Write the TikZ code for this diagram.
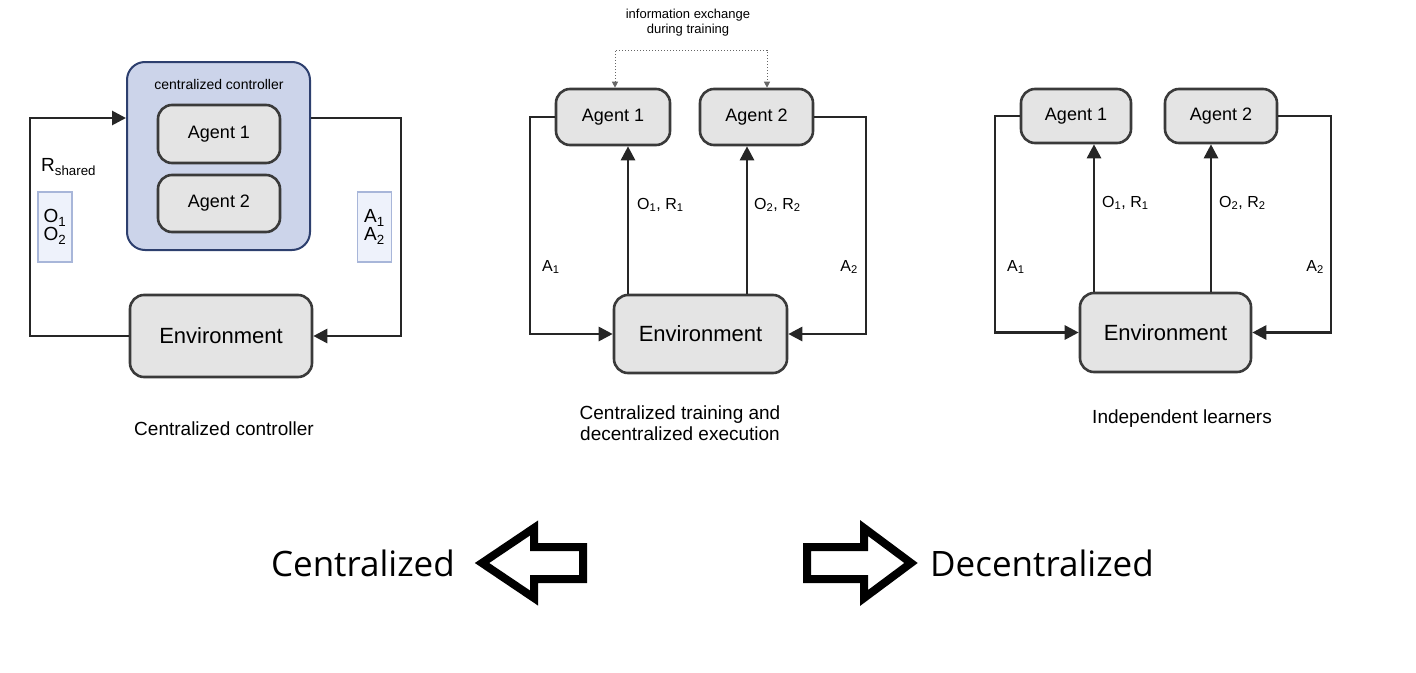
\documentclass[tikz,border=0pt]{standalone}
\usepackage{fontspec}
\setmainfont{Liberation Sans}
\newfontfamily\bigfont{Open Sans}
\usepackage{xcolor}
\usetikzlibrary{arrows.meta,positioning}

\definecolor{boxfill}{HTML}{E4E4E4}
\definecolor{boxline}{HTML}{3A3A3A}
\definecolor{ctrlfill}{HTML}{CCD4EA}
\definecolor{ctrlline}{HTML}{2D3F6E}
\definecolor{tagfill}{HTML}{EEF2FB}
\definecolor{tagline}{HTML}{A8B6D9}

\tikzset{
  agentbox/.style={draw=boxline, fill=boxfill, line width=2.6pt, rounded corners=14pt,
    inner sep=0pt, font=\fontsize{18}{20}\selectfont},
  envbox/.style={agentbox, font=\fontsize{22}{24}\selectfont},
  tagbox/.style={draw=tagline, fill=tagfill, line width=1.5pt, inner sep=0pt,
    minimum width=34pt, minimum height=70pt, align=left,
    font=\fontsize{19}{18}\selectfont},
  conn/.style={draw=black!85, line width=2.8pt, -{Triangle[length=14pt,width=14pt]}},
  info/.style={draw=black!60, line width=1pt, dotted,
    {Triangle[length=6pt,width=6pt]}-{Triangle[length=6pt,width=6pt]}},
  lbl/.style={inner sep=0pt, font=\fontsize{16}{16}\selectfont},
  caption/.style={align=center, font=\fontsize{19}{21}\selectfont},
  bigarrow/.style={draw=black, line width=8pt, miter limit=10},
}

\begin{document}
\begin{tikzpicture}[x=1pt, y=-1pt]
	\useasboundingbox (0,0) rectangle (1416,672);

	% centralized controller
	\node[draw=ctrlline, fill=ctrlfill, line width=2pt, rounded corners=18pt,
		minimum width=183pt, minimum height=188pt] (ctrl) at (218.5,156) {};
	\node[inner sep=0pt, font=\fontsize{14}{14}\selectfont] (ctrltxt) at (219,84) {centralized controller};
	\node[agentbox, minimum width=122pt, minimum height=58pt] (ag1) at (219,134) {Agent 1};
	\node[agentbox, minimum width=122pt, minimum height=57pt] (ag2) at (219,203.5) {Agent 2};
	\node[envbox, minimum width=182pt, minimum height=82pt] (env1) at (221,336) {Environment};
	\node[tagbox] (obox) at (55,227) {O\textsubscript{1}\\O\textsubscript{2}};
	\node[tagbox] (abox) at (374.5,227) {A\textsubscript{1}\\A\textsubscript{2}};
	\node[lbl, anchor=west, font=\fontsize{19}{19}\selectfont] (rsh) at (41,167) {R\textsubscript{shared}};
	\coordinate (cl) at (30,118);
	\coordinate (cr) at (401,118);
	\draw[conn] (env1.west) -| (cl) -- (cl -| ctrl.west);
	\draw[conn] (cr -| ctrl.east) -- (cr) |- (env1.east);
	\node[caption] (cap1) at (224,429) {Centralized controller};

	% centralized training, decentralized execution
	\node[agentbox, minimum width=114pt, minimum height=56pt] (a1m) at (613,117) {Agent 1};
	\node[agentbox, minimum width=113pt, minimum height=56pt] (a2m) at (756.5,117) {Agent 2};
	\node[envbox, minimum width=173pt, minimum height=78pt] (e2) at (700.5,334) {Environment};
	\node[inner sep=0pt, align=center, font=\fontsize{13}{15}\selectfont] (exch) at (688,23)
		{information exchange\\during training};
	\coordinate (x1) at (615,50);
	\coordinate (x2) at (767,50);
	\draw[info] (x1 |- a1m.north) -- (x1) -- (x2) -- (x2 |- a2m.north);
	\coordinate (u1) at (628,0);
	\coordinate (u2) at (747,0);
	\draw[conn] (u1 |- e2.north) -- (u1 |- a1m.south);
	\draw[conn] (u2 |- e2.north) -- (u2 |- a2m.south);
	\coordinate (ml) at (530,0);
	\coordinate (mr) at (866,0);
	\draw[conn] (a1m.west) -| (ml |- e2.west) -- (e2.west);
	\draw[conn] (a2m.east) -| (mr |- e2.east) -- (e2.east);
	\node[lbl, anchor=west] (or1m) at (637,205) {O\textsubscript{1}, R\textsubscript{1}};
	\node[lbl, anchor=west] (or2m) at (754,205) {O\textsubscript{2}, R\textsubscript{2}};
	\node[lbl, anchor=west] (act1m) at (542,267) {A\textsubscript{1}};
	\node[lbl, anchor=east] (act2m) at (858,267) {A\textsubscript{2}};
	\node[caption] (cap2) at (680,423) {Centralized training and\\decentralized execution};

	% independent learners
	\node[agentbox, minimum width=110pt, minimum height=54pt] (a1r) at (1076,116) {Agent 1};
	\node[agentbox, minimum width=112pt, minimum height=54pt] (a2r) at (1221,116) {Agent 2};
	\node[envbox, minimum width=171pt, minimum height=79pt] (e3) at (1165.5,332.5) {Environment};
	\coordinate (v1) at (1094,0);
	\coordinate (v2) at (1211,0);
	\draw[conn] (v1 |- e3.north) -- (v1 |- a1r.south);
	\draw[conn] (v2 |- e3.north) -- (v2 |- a2r.south);
	\coordinate (rl) at (995,0);
	\coordinate (rr) at (1331,0);
	\draw[conn] (a1r.west) -| (rl |- e3.west) -- (e3.west);
	\draw[conn] (a2r.east) -| (rr |- e3.east) -- (e3.east);
	\node[lbl, anchor=west] (or1r) at (1102,203) {O\textsubscript{1}, R\textsubscript{1}};
	\node[lbl, anchor=west] (or2r) at (1219,203) {O\textsubscript{2}, R\textsubscript{2}};
	\node[lbl, anchor=west] (act1r) at (1007,267) {A\textsubscript{1}};
	\node[lbl, anchor=east] (act2r) at (1324,267) {A\textsubscript{2}};
	\node[caption] (cap3) at (1182,419) {Independent learners};

	% scale at the bottom
	\node[inner sep=0pt, anchor=east, font=\bigfont\fontsize{35}{35}\selectfont] (cen) at (455,563) {Centralized};
	\node[inner sep=0pt, anchor=west, font=\bigfont\fontsize{35}{35}\selectfont] (dec) at (930,563) {Decentralized};
	\draw[bigarrow] (482,563) -- (534,528) -- (534,547) -- (583,547) -- (583,579) -- (534,579) -- (534,598) -- cycle;
	\draw[bigarrow] (807,547) -- (864,547) -- (864,528) -- (911,563) -- (864,598) -- (864,579) -- (807,579) -- cycle;
\end{tikzpicture}
\end{document}
